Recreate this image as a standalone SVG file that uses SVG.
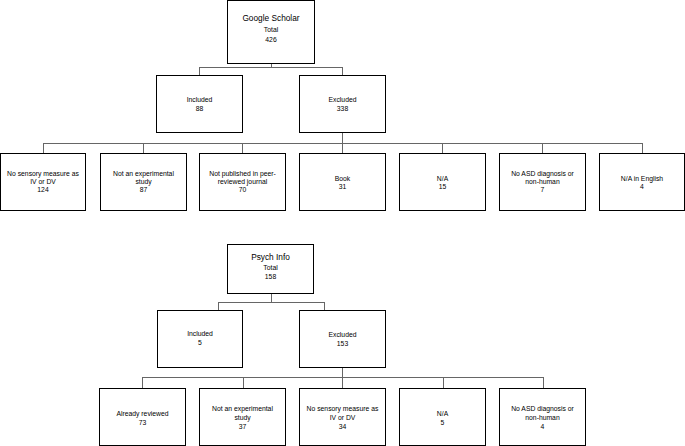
<svg xmlns="http://www.w3.org/2000/svg" width="685" height="446" viewBox="0 0 685 446">
<style>
.box{fill:#fff;stroke:#000;stroke-width:1}
.t{font-family:"Liberation Sans",Arial,sans-serif;font-size:6.8px;text-anchor:middle;fill:#000}
.h{font-size:8.3px}
.conn{stroke:#666;fill:none;stroke-width:1}
</style>
<rect width="685" height="446" fill="#fff"/>
<g id="connectors" class="conn">
<path d="M271.5 63 V67.5 M199.5 67.5 H342.5 M199.5 67 V75 M342.5 67 V75"/>
<path d="M342.5 132 V143.5 M43.5 143.5 H642.5 M43.5 143 V153 M143.5 143 V153 M242.5 143 V153 M342.5 143 V153 M442.5 143 V153 M542.5 143 V153 M642.5 143 V153"/>
<path d="M271.5 293 V302.5 M218.5 302.5 H324.5 M218.5 302 V310 M324.5 302 V310"/>
<path d="M342.5 367 V377.5 M142.5 377.5 H543.5 M142.5 377 V388 M243.5 377 V388 M342.5 377 V388 M443.5 377 V388 M543.5 377 V388"/>
</g>
<g id="google-scholar"><rect class="box" x="227.5" y="0.5" width="87" height="63"/>
<text class="t h" x="271" y="21">Google Scholar</text><text class="t" x="271" y="31.5">Total</text><text class="t" x="271" y="41.5">426</text></g>
<g id="gs-included"><rect class="box" x="156.5" y="75.5" width="86" height="57"/>
<text class="t" x="199.5" y="101.5">Included</text><text class="t" x="199.5" y="110.5">88</text></g>
<g id="gs-excluded"><rect class="box" x="299.5" y="75.5" width="86" height="57"/>
<text class="t" x="342.5" y="101.5">Excluded</text><text class="t" x="342.5" y="110.5">338</text></g>
<g id="gs-no-sensory"><rect class="box" x="0.5" y="153.5" width="85" height="57"/>
<text class="t" x="43" y="175.8">No sensory measure as</text><text class="t" x="43" y="183.6">IV or DV</text><text class="t" x="43" y="191.6">124</text></g>
<g id="gs-not-experimental"><rect class="box" x="100.5" y="153.5" width="86" height="57"/>
<text class="t" x="143.5" y="175.8">Not an experimental</text><text class="t" x="143.5" y="183.6">study</text><text class="t" x="143.5" y="191.6">87</text></g>
<g id="gs-not-published"><rect class="box" x="199.5" y="153.5" width="86" height="57"/>
<text class="t" x="242.5" y="175.8">Not published in peer-</text><text class="t" x="242.5" y="183.6">reviewed journal</text><text class="t" x="242.5" y="191.6">70</text></g>
<g id="gs-book"><rect class="box" x="299.5" y="153.5" width="86" height="57"/>
<text class="t" x="342.5" y="180.8">Book</text><text class="t" x="342.5" y="189">31</text></g>
<g id="gs-na"><rect class="box" x="399.5" y="153.5" width="86" height="57"/>
<text class="t" x="442.5" y="180.8">N/A</text><text class="t" x="442.5" y="189">15</text></g>
<g id="gs-no-asd"><rect class="box" x="499.5" y="153.5" width="86" height="57"/>
<text class="t" x="542.5" y="175.8">No ASD diagnosis or</text><text class="t" x="542.5" y="183.6">non-human</text><text class="t" x="542.5" y="191.6">7</text></g>
<g id="gs-na-english"><rect class="box" x="599.5" y="153.5" width="85" height="57"/>
<text class="t" x="642" y="180.8">N/A in English</text><text class="t" x="642" y="189">4</text></g>
<g id="psych-info"><rect class="box" x="227.5" y="244.5" width="86" height="49"/>
<text class="t h" x="270.5" y="260">Psych Info</text><text class="t" x="270.5" y="269.5">Total</text><text class="t" x="270.5" y="279">158</text></g>
<g id="pi-included"><rect class="box" x="157.5" y="310.5" width="85" height="57"/>
<text class="t" x="200" y="335.5">Included</text><text class="t" x="200" y="344.5">5</text></g>
<g id="pi-excluded"><rect class="box" x="299.5" y="310.5" width="86" height="57"/>
<text class="t" x="342.5" y="336.5">Excluded</text><text class="t" x="342.5" y="346">153</text></g>
<g id="pi-already-reviewed"><rect class="box" x="99.5" y="388.5" width="86" height="57"/>
<text class="t" x="142.5" y="415.5">Already reviewed</text><text class="t" x="142.5" y="424.5">73</text></g>
<g id="pi-not-experimental"><rect class="box" x="199.5" y="388.5" width="86" height="57"/>
<text class="t" x="242.5" y="410.5">Not an experimental</text><text class="t" x="242.5" y="419.5">study</text><text class="t" x="242.5" y="429">37</text></g>
<g id="pi-no-sensory"><rect class="box" x="299.5" y="388.5" width="86" height="57"/>
<text class="t" x="342.5" y="410.5">No sensory measure as</text><text class="t" x="342.5" y="419.5">IV or DV</text><text class="t" x="342.5" y="429">34</text></g>
<g id="pi-na"><rect class="box" x="399.5" y="388.5" width="86" height="57"/>
<text class="t" x="442.5" y="415.5">N/A</text><text class="t" x="442.5" y="424.5">5</text></g>
<g id="pi-no-asd"><rect class="box" x="499.5" y="388.5" width="86" height="57"/>
<text class="t" x="542.5" y="410.5">No ASD diagnosis or</text><text class="t" x="542.5" y="419.5">non-human</text><text class="t" x="542.5" y="429">4</text></g>
</svg>
